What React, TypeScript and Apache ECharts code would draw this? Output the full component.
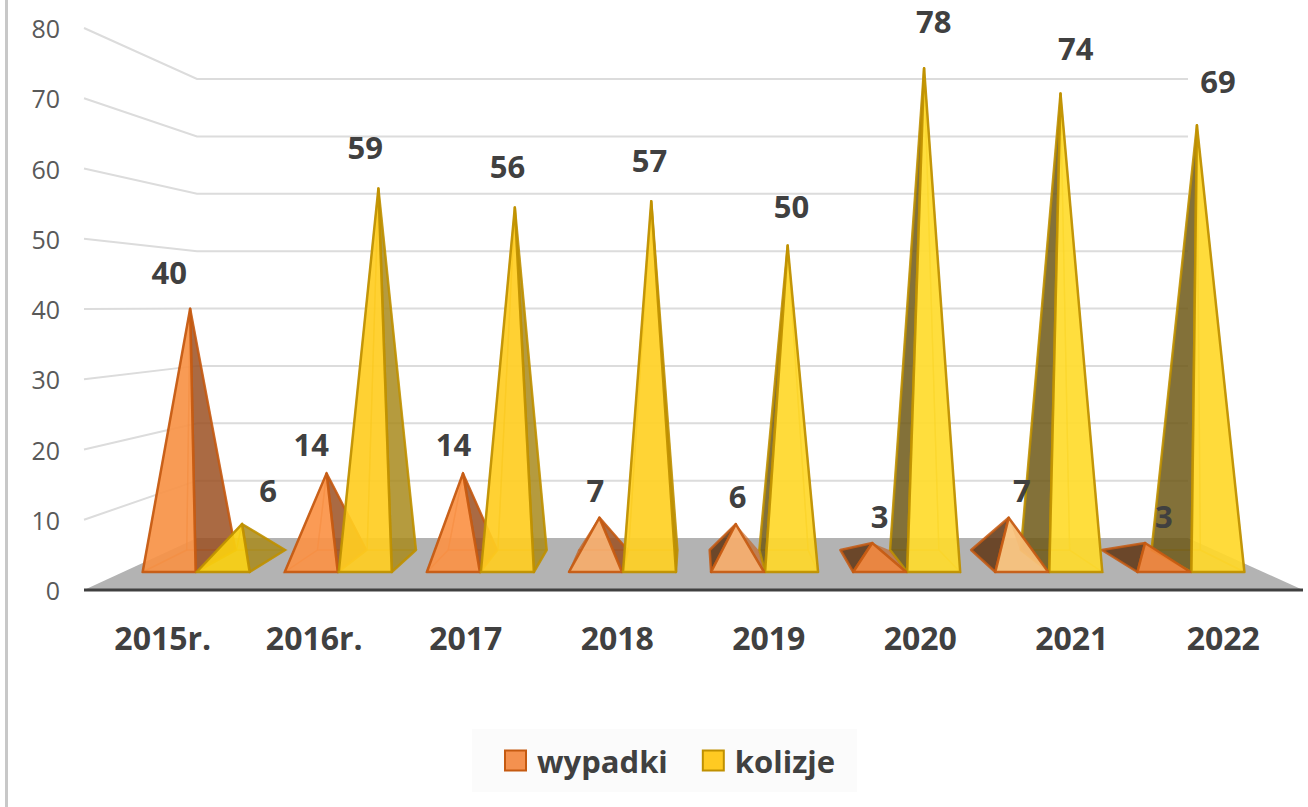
import React, { useEffect, useRef } from "react";
import * as echarts from "echarts";

const categories = ["2015r.", "2016r.", "2017", "2018", "2019", "2020", "2021", "2022"];
const wypadki = [40, 14, 14, 7, 6, 3, 7, 3];
const kolizje = [6, 59, 56, 57, 50, 78, 74, 69];
const wallTicks = [10, 20, 30, 40, 50, 60, 70, 80];

const wypadkiFront = ["#f79246", "#fb9247", "#fb9247", "#f6ad6b", "#f6ad6b", "#ee8238", "#f8c27c", "#ee8238"];
const kolizjeFront = ["#f8cf10", "#ffcd22", "#ffcd22", "#ffd024", "#ffd82a", "#ffdb2c", "#ffdb2c", "#ffd82a"];

const FONT = '"Open Sans", sans-serif';
const AXIS_Y0 = 590;
const VX = 693.5;
const DEPTH = 0.08;
const FRONT_Y = 572;
const BACK_Y = 550;
const HALF = 26.5;

function wallSeriesRender(params: any, api: any) {
  const v = api.value(0);
  const y = api.coord([0, v])[1];
  const backY = 538 - (AXIS_Y0 - y) * 0.8167;
  return {
    type: "polyline",
    shape: { points: [[84, y], [197, backY], [1188, backY]] },
    style: { stroke: "#dcdcdc", lineWidth: 2, fill: "none" },
    silent: true,
  };
}

function makePyramid(seriesIdx: number, fronts: string[], rightDark: string, leftDark: string, edge: string) {
  return (params: any, api: any) => {
    const i = api.value(0);
    const v = api.value(1);
    const [axisX, y] = api.coord([i, v]);
    const groupX = VX + (axisX - VX) * 0.938;
    const cx = seriesIdx === 0 ? groupX - 26.5 : groupX + 27.5;
    const fl = cx - HALF;
    const fr = cx + HALF;
    const bl = fl + (VX - fl) * DEPTH;
    const br = fr + (VX - fr) * DEPTH;
    const apex: number[] = [cx + (VX - cx) * (DEPTH / 2), 562 - (AXIS_Y0 - y) * 0.901];
    const FL = [fl, FRONT_Y];
    const FR = [fr, FRONT_Y];
    const BL = [bl, BACK_Y];
    const BR = [br, BACK_Y];
    const leftSide = cx < VX;
    const order = Math.round(600 - Math.abs(cx - VX)) * 10;
    const faint = { stroke: edge, lineWidth: 1.5, opacity: 0.45, fill: "none" };
    const poly = (points: number[][], style: any, k: number) => ({
      type: "polygon",
      shape: { points },
      style,
      z2: order + k,
      silent: true,
    });
    const side = leftSide ? [FR, BR, apex] : [BL, FL, apex];
    const hidden = leftSide ? [BL, FL, apex] : [FR, BR, apex];
    const hiddenStyle = !leftSide && seriesIdx === 0 ? { fill: edge, opacity: 0.6, stroke: "none" } : faint;
    const baseStyle = !leftSide && seriesIdx === 0 ? { fill: "none", stroke: "none" } : { ...faint, fill: "rgba(0,0,0,0.03)" };
    const labelX = cx + (seriesIdx === 1 && i === 0 ? 45 : 0);
    const labelY = 536 - (AXIS_Y0 - y) * 0.9395 + (seriesIdx === 1 && i === 0 ? -6 : 0);
    return {
      type: "group",
      children: [
        poly([BL, BR, FR, FL], baseStyle, 0),
        poly([BL, BR, apex], !leftSide && seriesIdx === 0 ? baseStyle : faint, 1),
        poly(hidden, hiddenStyle, 2),
        poly(side, { fill: leftSide ? rightDark : leftDark, opacity: 0.86, stroke: edge, lineWidth: 2.5, lineJoin: "round" }, 3),
        poly([FL, FR, apex], { fill: fronts[i], opacity: 0.92, stroke: edge, lineWidth: 2.5, lineJoin: "round" }, 4),
        {
          type: "text",
          x: labelX,
          y: labelY,
          z2: 99999,
          silent: true,
          style: {
            text: String(v),
            fill: "#404040",
            fontFamily: FONT,
            fontSize: 31,
            fontWeight: 700,
            align: "center",
            verticalAlign: "middle",
          },
        },
      ],
    };
  };
}

export default function App() {
  const ref = useRef<HTMLDivElement>(null);
  useEffect(() => {
    const chart = echarts.init(ref.current!, undefined, { renderer: "svg" });
    chart.setOption({
      animation: false,
      backgroundColor: "#ffffff",
      grid: { left: 87, top: 28, width: 1212, height: 562 },
      xAxis: {
        type: "category",
        data: categories,
        axisLine: { show: false },
        axisTick: { show: false },
        axisLabel: { color: "#404040", fontFamily: FONT, fontSize: 32, fontWeight: 700, margin: 31 },
      },
      yAxis: {
        type: "value",
        min: 0,
        max: 80,
        interval: 10,
        axisLine: { show: false },
        axisTick: { show: false },
        splitLine: { show: false },
        axisLabel: { color: "#595959", fontFamily: FONT, fontSize: 25, margin: 27 },
      },
      legend: {
        data: [
          { name: "wypadki", icon: "rect" },
          { name: "kolizje", icon: "rect" },
        ],
        left: 472,
        top: 729,
        padding: [16, 22, 16, 32],
        itemGap: 34,
        itemWidth: 21,
        itemHeight: 20,
        backgroundColor: "#fbfbfb",
        selectedMode: false,
        textStyle: { color: "#404040", fontFamily: FONT, fontSize: 31, fontWeight: 700, padding: [0, 0, 0, 6] },
      },
      graphic: [
        { type: "rect", left: 5, top: 0, shape: { width: 3, height: 807 }, style: { fill: "#c8c8c8" }, silent: true },
        {
          type: "polygon",
          z: 0,
          silent: true,
          shape: { points: [[84, 590], [1303, 590], [1188, 538], [197, 538]] },
          style: { fill: "#b3b3b3" },
        },
        {
          type: "line",
          z: 0,
          silent: true,
          shape: { x1: 84, y1: 590, x2: 1303, y2: 590 },
          style: { stroke: "#404040", lineWidth: 3 },
        },
      ],
      series: [
        {
          name: "wall",
          type: "custom",
          z: 1,
          clip: false,
          coordinateSystem: "cartesian2d",
          encode: { y: 0 },
          renderItem: wallSeriesRender,
          data: wallTicks.map((t) => [t]),
          tooltip: { show: false },
        },
        {
          name: "wypadki",
          type: "custom",
          z: 2,
          clip: false,
          itemStyle: { color: "#f4914f", borderColor: "#c55a11", borderWidth: 3 },
          encode: { x: 0, y: 1 },
          renderItem: makePyramid(0, wypadkiFront, "#9c5224", "#5f3514", "#c55a11"),
          data: wypadki.map((v, i) => [i, v]),
        },
        {
          name: "kolizje",
          type: "custom",
          z: 2,
          clip: false,
          itemStyle: { color: "#ffca22", borderColor: "#bf9000", borderWidth: 3 },
          encode: { x: 0, y: 1 },
          renderItem: makePyramid(1, kolizjeFront, "#a98a1e", "#6f5a18", "#bf9000"),
          data: kolizje.map((v, i) => [i, v]),
        },
      ],
    });
    return () => chart.dispose();
  }, []);
  return <div ref={ref} style={{ position: "fixed", left: 0, top: 0, width: 1308, height: 807 }} />;
}
